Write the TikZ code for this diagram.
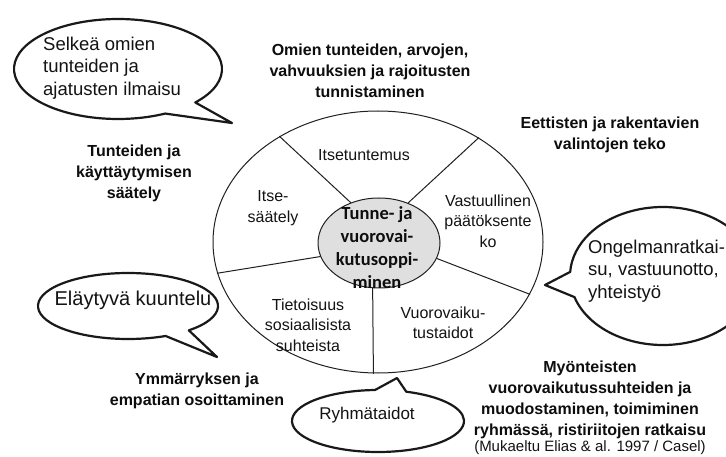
\documentclass[tikz,border=0pt]{standalone}
\usepackage{fontspec}
\setmainfont{Liberation Sans}
\newfontfamily\corefont{Carlito}
\usetikzlibrary{shapes}
\tikzstyle{every path}=[line cap=round,line join=round]
\tikzstyle{ring}=[ellipse,draw=gray!25!black,line width=1pt,inner sep=0pt]
\tikzstyle{divider}=[draw=gray!25!black,line width=1pt]
\tikzstyle{bubble}=[draw=gray!20!black,fill=white,line width=2.2pt]
\tikzstyle{bubbletext}=[font=\fontsize{18.5}{22.5}\selectfont,align=left,text=gray!15!black,inner sep=0pt]
\tikzstyle{boldlabel}=[font=\fontsize{16}{21}\selectfont\bfseries,align=center,text=gray!10!black,inner sep=0pt]
\tikzstyle{seglabel}=[font=\fontsize{16}{20.5}\selectfont,align=center,text=gray!15!black,inner sep=0pt]

\begin{document}
\begin{tikzpicture}[x=1pt,y=1pt]
\useasboundingbox[fill=white] (0,0) rectangle (726,-457);

% wheel
\node[ring,minimum width=330pt,minimum height=262pt] (wheel) at (378,-242) {};
\node[ring,fill=gray!25,minimum width=122pt,minimum height=90pt] (core) at (379,-243) {};
\draw[divider] (core.125) -- (wheel.133.6);
\draw[divider] (core.54.7) -- (wheel.46.4);
\draw[divider] (core.-15.6) -- (wheel.-19);
\draw[divider] (core.-98.8) -- (wheel.-92.6);
\draw[divider] (core.193) -- (wheel.191.7);

\node[font=\corefont\bfseries\fontsize{18.5}{23}\selectfont,align=center,text=gray!10!black,inner sep=0pt] (corelabel) at (377,-248) {Tunne- ja\\vuorovai-\\kutusoppi-\\minen};

\node[seglabel] (itsetuntemus) at (364,-155) {Itsetuntemus};
\node[seglabel] (itsesaately) at (273,-208) {Itse-\\säätely};
\node[seglabel] (paatokset) at (488,-221) {Vastuullinen\\päätöksente\\ko};
\node[seglabel] (taidot) at (443,-323) {Vuorovaiku-\\tustaidot};
\node[seglabel] (tietoisuus) at (308,-325) {Tietoisuus\\sosiaalisista\\suhteista};

% speech bubbles
\draw[bubble] (118,-69) ++(-42:104 and 50) arc[start angle=-42,end angle=297,x radius=104,y radius=50] -- (232,-123) -- cycle;
\draw[bubble] (663,-276) ++(197.8:93 and 69) arc[start angle=197.8,end angle=536.6,x radius=93,y radius=69] -- (545,-285) -- cycle;
\draw[bubble] (128,-306) ++(-47.5:90 and 33) arc[start angle=-47.5,end angle=294.7,x radius=90,y radius=33] -- (217,-357) -- cycle;
\draw[bubble] (378,-421) ++(92:86 and 31) arc[start angle=92,end angle=430.8,x radius=86,y radius=31] -- (397,-378) -- cycle;

\node[bubbletext,anchor=west] (selkea) at (43,-68) {Selkeä omien\\tunteiden ja\\ajatusten ilmaisu};
\node[bubbletext,anchor=west] (ongelma) at (588,-271) {Ongelmanratkai-\\su, vastuunotto,\\yhteistyö};
\node[bubbletext,font=\fontsize{20}{24}\selectfont] (elaytyva) at (133,-300) {Eläytyvä kuuntelu};
\node[bubbletext,font=\fontsize{17}{20}\selectfont] (ryhma) at (367,-415) {Ryhmätaidot};

% outer labels
\node[boldlabel] (tunnistaminen) at (370,-71) {Omien tunteiden, arvojen,\\vahvuuksien ja rajoitusten\\tunnistaminen};
\node[boldlabel] (valinnat) at (610,-135) {Eettisten ja rakentavien\\valintojen teko};
\node[boldlabel] (saately) at (134,-173) {Tunteiden ja\\käyttäytymisen\\säätely};
\node[boldlabel] (empatia) at (197,-391) {Ymmärryksen ja\\empatian osoittaminen};
\node[boldlabel] (suhteet) at (590,-400) {Myönteisten\\vuorovaikutussuhteiden ja\\muodostaminen, toimiminen\\ryhmässä, ristiriitojen ratkaisu};
\node[seglabel,font=\fontsize{15}{18}\selectfont] (lahde) at (590,-448) {(Mukaeltu Elias \& al. 1997 / Casel)};
\end{tikzpicture}
\end{document}
